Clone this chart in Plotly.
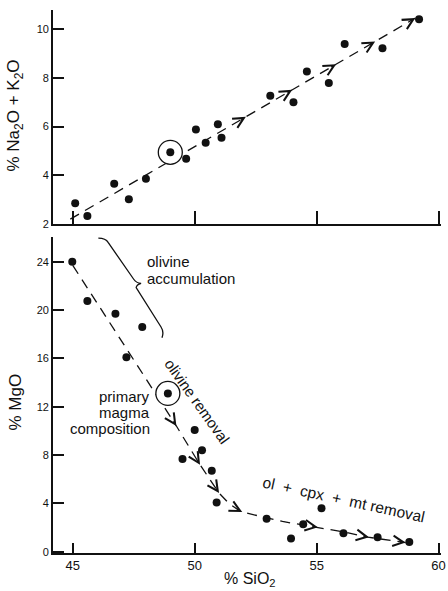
import numpy as np
import plotly.graph_objects as go

# ---------------- data ----------------
sio2_alk = [45.1, 45.6, 46.7, 47.3, 48.0, 49.0, 49.65, 50.05, 50.45, 50.95, 51.1,
            53.1, 54.05, 54.6, 55.5, 56.15, 57.7, 59.2]
alkalis = [2.85, 2.33, 3.65, 3.02, 3.86, 4.94, 4.68, 5.88, 5.33, 6.09, 5.54,
           7.26, 6.99, 8.26, 7.79, 9.38, 9.21, 10.4]

sio2_mgo = [44.98, 45.6, 46.75, 47.85, 47.2, 48.9, 50.0, 49.5, 50.3, 50.7, 50.9,
            52.95, 53.95, 54.45, 55.2, 56.1, 57.5, 58.8]
mgo = [24.0, 20.75, 19.7, 18.6, 16.1, 13.1, 10.07, 7.67, 8.4, 6.7, 4.06,
       2.73, 1.08, 2.27, 3.59, 1.52, 1.19, 0.8]

primary_sio2 = [49.0]
primary_alk = [4.94]
primary_sio2_b = [48.9]
primary_mgo = [13.1]

trend_alk_x = [44.9, 59.05]
trend_alk_y = [2.2, 10.45]
arrows_alk_x = [52.1, 54.0, 55.8, 57.4, 59.05]

trend_mgo_x = [45.0, 49.25, 50.2, 51.0, 51.4, 51.9, 53.6, 55.0, 56.2, 57.1, 58.65]
trend_mgo_y = [23.7, 10.4, 7.25, 4.85, 4.0, 3.3, 2.5, 2.03, 1.6, 1.2, 0.75]
arrows_mgo_x = [49.25, 50.22, 51.0, 51.95, 55.05, 57.15, 58.65]

brace_x = [46.05, 46.35, 46.45, 47.5, 47.6, 47.8, 47.62, 47.6, 48.62, 48.75, 48.66]
brace_y = [25.95, 25.95, 25.6, 22.55, 22.25, 22.2, 22.1, 21.85, 18.6, 18.2, 17.7]

x_ticks = [45, 50, 55, 60]
alk_ticks = [2, 4, 6, 8, 10]
mgo_ticks = [0, 4, 8, 12, 16, 20, 24]

# ---------------- styling ----------------
FONT = "Liberation Sans, Arial, Helvetica, sans-serif"
INK = "#111111"
X_RANGE = [44.19, 60.1]
ALK_RANGE = [2.0, 10.78]
MGO_RANGE = [-0.11, 26.05]
PX_X = 24.7      # px per SiO2 unit
PX_ALK = 24.375  # px per alkali unit
PX_MGO = 12.08   # px per MgO unit

fig = go.Figure()

dash_line = dict(color=INK, width=1.3, dash="10px,7px")

# top panel
fig.add_trace(go.Scatter(x=trend_alk_x, y=trend_alk_y, mode="lines", line=dash_line,
                         xaxis="x2", yaxis="y2", hoverinfo="skip"))
fig.add_trace(go.Scatter(x=primary_sio2, y=primary_alk, mode="markers",
                         marker=dict(symbol="circle", size=24, color="white",
                                     line=dict(color=INK, width=1.3)),
                         xaxis="x2", yaxis="y2"))
fig.add_trace(go.Scatter(x=sio2_alk, y=alkalis, mode="markers",
                         marker=dict(size=8, color=INK), xaxis="x2", yaxis="y2"))

# bottom panel
fig.add_trace(go.Scatter(x=trend_mgo_x, y=trend_mgo_y, mode="lines", line=dash_line,
                         xaxis="x", yaxis="y", hoverinfo="skip"))
fig.add_trace(go.Scatter(x=primary_sio2_b, y=primary_mgo, mode="markers",
                         marker=dict(symbol="circle", size=24, color="white",
                                     line=dict(color=INK, width=1.3)),
                         xaxis="x", yaxis="y"))
fig.add_trace(go.Scatter(x=sio2_mgo, y=mgo, mode="markers",
                         marker=dict(size=8, color=INK), xaxis="x", yaxis="y"))

annotations = []


def add_arrows(tips_x, path_x, path_y, px_y, xref, yref):
    for tx in tips_x:
        ty = float(np.interp(tx, path_x, path_y))
        bx = tx - 0.15
        by = float(np.interp(bx, path_x, path_y))
        dxp = (tx - bx) * PX_X
        dyp = -(ty - by) * px_y
        n = np.hypot(dxp, dyp)
        ux, uy = dxp / n, dyp / n
        annotations.append(dict(x=tx, y=ty, xref=xref, yref=yref, text="",
                                showarrow=True, arrowhead=5, arrowsize=1.6,
                                arrowwidth=1.3, arrowcolor=INK, standoff=0,
                                ax=-ux * 7, ay=-uy * 7))


add_arrows(arrows_alk_x, trend_alk_x, trend_alk_y, PX_ALK, "x2", "y2")
add_arrows(arrows_mgo_x, trend_mgo_x, trend_mgo_y, PX_MGO, "x", "y")

txt = dict(family=FONT, size=15, color=INK)


def label(text, x, y, xanchor="center", angle=0, xref="x", yref="y", font=txt):
    annotations.append(dict(text=text, x=x, y=y, xref=xref, yref=yref, xanchor=xanchor,
                            yanchor="middle", showarrow=False, textangle=angle, font=font))


NB = "\u00a0"
label("olivine", 47.98, 24.0, xanchor="left")
label("accumulation", 47.98, 22.63, xanchor="left")
label("primary", 48.24, 12.83, xanchor="right")
label("magma", 48.24, 11.54, xanchor="right")
label("composition", 48.24, 10.16, xanchor="right")
label("olivine removal", 50.11, 12.42, angle=54.6)
label(f"ol {NB}+ {NB}cpx {NB}+ {NB}mt removal", 56.11, 4.28, angle=12.3,
      font=dict(family=FONT, size=15.5, color=INK))

title_font = dict(family=FONT, size=17, color=INK)
label("% Na<sub>2</sub>O + K<sub>2</sub>O", -0.0967, 0.8066, angle=-90,
      xref="paper", yref="paper", font=title_font)
label("% MgO", -0.0967, 0.278, angle=-90, xref="paper", yref="paper", font=title_font)
label("% SiO<sub>2</sub>", 0.509, -0.0497, xref="paper", yref="paper",
      font=dict(family=FONT, size=16, color=INK))

brace_path = "M {},{} Q {},{} {},{} L {},{} Q {},{} {},{} Q {},{} {},{} L {},{} Q {},{} {},{}".format(
    *[v for pair in zip(brace_x, brace_y) for v in pair])

axis_common = dict(showline=True, linecolor=INK, linewidth=1.7, showgrid=False,
                   zeroline=False, ticks="inside", tickcolor=INK, tickwidth=1.5)

fig.update_layout(
    width=448, height=591,
    margin=dict(l=53, r=2, t=10, b=38),
    paper_bgcolor="white", plot_bgcolor="white",
    showlegend=False,
    font=dict(family=FONT, color=INK),
    xaxis=dict(axis_common, range=X_RANGE, tickvals=x_ticks, ticklen=10,
               tickfont=dict(family=FONT, size=13, color=INK), anchor="y",
               domain=[0, 1], ticklabeloverflow="allow"),
    yaxis=dict(axis_common, range=MGO_RANGE, tickvals=mgo_ticks, ticklen=11,
               tickfont=dict(family=FONT, size=11, color=INK), anchor="x",
               domain=[0, 0.582]),
    xaxis2=dict(axis_common, range=X_RANGE, tickvals=x_ticks, ticklen=13,
                showticklabels=False, anchor="y2", domain=[0, 1]),
    yaxis2=dict(axis_common, range=ALK_RANGE, tickvals=alk_ticks, ticklen=11,
                tickfont=dict(family=FONT, size=11, color=INK), anchor="x2",
                domain=[0.6059, 1]),
    annotations=annotations,
    shapes=[dict(type="path", path=brace_path, xref="x", yref="y",
                 line=dict(color=INK, width=1.3))],
)

fig.write_html("out.html")
